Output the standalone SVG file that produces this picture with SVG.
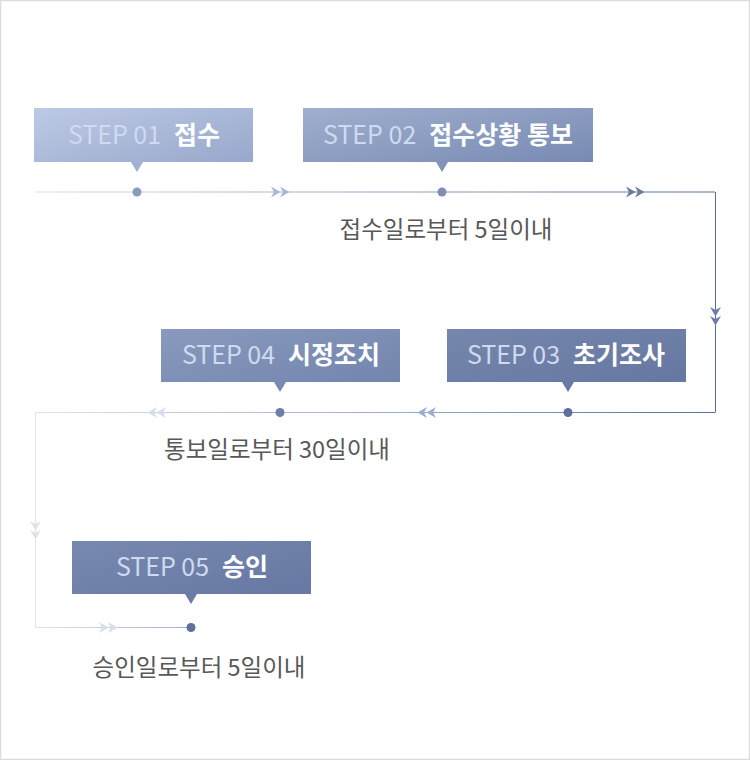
<svg xmlns="http://www.w3.org/2000/svg" width="750" height="760" viewBox="0 0 750 760">
  <style>
    .step { font-family: "Noto Sans CJK KR", "Noto Sans", sans-serif; font-size: 25px; }
    .num { fill: #cfdaf1; font-weight: 400; }
    .name { fill: #ffffff; font-weight: 700; }
    .desc { font-family: "Noto Sans CJK KR", "Noto Sans", sans-serif; font-size: 23.5px; fill: #585858; text-anchor: middle; }
    .ln { fill: none; stroke-width: 1; }
  </style>
  <defs>
    <linearGradient id="g1" x1="0" y1="0" x2="1" y2="1">
      <stop offset="0" stop-color="#bdcae6"/>
      <stop offset="1" stop-color="#95a5c8"/>
    </linearGradient>
    <linearGradient id="g2" x1="0" y1="0" x2="1" y2="1">
      <stop offset="0" stop-color="#a0afce"/>
      <stop offset="1" stop-color="#7487b0"/>
    </linearGradient>
    <linearGradient id="g3" x1="0" y1="0" x2="1" y2="1">
      <stop offset="0" stop-color="#7687ad"/>
      <stop offset="1" stop-color="#6476a0"/>
    </linearGradient>
    <linearGradient id="g4" x1="0" y1="0" x2="1" y2="1">
      <stop offset="0" stop-color="#8a9abe"/>
      <stop offset="1" stop-color="#7083ac"/>
    </linearGradient>
    <linearGradient id="g5" x1="0" y1="0" x2="1" y2="1">
      <stop offset="0" stop-color="#7789af"/>
      <stop offset="1" stop-color="#6577a2"/>
    </linearGradient>
    <linearGradient id="lg1" gradientUnits="userSpaceOnUse" x1="35" y1="0" x2="715" y2="0">
      <stop offset="0" stop-color="#dbe1ec"/>
      <stop offset="0.35" stop-color="#a8b6d6"/>
      <stop offset="1" stop-color="#5c6d98"/>
    </linearGradient>
    <linearGradient id="lg2" gradientUnits="userSpaceOnUse" x1="715" y1="0" x2="35" y2="0">
      <stop offset="0" stop-color="#5c6d98"/>
      <stop offset="0.45" stop-color="#9aa9c9"/>
      <stop offset="1" stop-color="#dfe4ec"/>
    </linearGradient>
    <linearGradient id="lg3" gradientUnits="userSpaceOnUse" x1="35" y1="0" x2="191" y2="0">
      <stop offset="0" stop-color="#dfe4ec"/>
      <stop offset="1" stop-color="#a3b0cc"/>
    </linearGradient>
    <path id="chev" d="M0,-5.5 L9.5,0 L0,5.5 L3,0 Z M9,-5.5 L18.5,0 L9,5.5 L12,0 Z"/>
  </defs>

  <rect x="0.5" y="0.5" width="749" height="759" fill="#ffffff" stroke="#dcdcdc" stroke-width="1.5"/>

  <g id="connectors">
    <line class="ln" x1="35" y1="192" x2="715" y2="192" stroke="url(#lg1)"/>
    <line class="ln" x1="715.5" y1="192" x2="715.5" y2="412.5" stroke="#5c6d98"/>
    <line class="ln" x1="715" y1="412.5" x2="35" y2="412.5" stroke="url(#lg2)"/>
    <line class="ln" x1="35.5" y1="412.5" x2="35.5" y2="627.5" stroke="#dfe4ec"/>
    <line class="ln" x1="35" y1="627.5" x2="191" y2="627.5" stroke="url(#lg3)"/>
    <use href="#chev" transform="translate(271,192)" fill="#a9b8da"/>
    <use href="#chev" transform="translate(626,192)" fill="#6a7ba7"/>
    <use href="#chev" transform="translate(715.5,307) rotate(90)" fill="#6c7da8"/>
    <use href="#chev" transform="translate(436,412.5) rotate(180)" fill="#9caccd"/>
    <use href="#chev" transform="translate(166,412.5) rotate(180)" fill="#d6deec"/>
    <use href="#chev" transform="translate(35.5,521) rotate(90)" fill="#dde2ea"/>
    <use href="#chev" transform="translate(99,627.5)" fill="#d6deec"/>
  </g>

  <g id="step1">
    <path d="M34,108 H253 V162 H143 L137,172 L131,162 H34 Z" fill="url(#g1)"/>
    <circle cx="137" cy="192" r="4.5" fill="#8b9cc4"/>
    <text class="step" x="144" y="144" text-anchor="middle"><tspan class="num">STEP 01</tspan><tspan class="name" dx="13">접수</tspan></text>
  </g>

  <g id="step2">
    <path d="M303,108 H593 V162 H448 L442,172 L436,162 H303 Z" fill="url(#g2)"/>
    <circle cx="442" cy="192" r="4.5" fill="#7d8fb7"/>
    <text class="step" x="448" y="144" text-anchor="middle"><tspan class="num">STEP 02</tspan><tspan class="name" dx="13">접수상황 통보</tspan></text>
    <text class="desc" x="446" y="238">접수일로부터 5일이내</text>
  </g>

  <g id="step3">
    <path d="M447,329 H686 V382 H574 L568,392 L562,382 H447 Z" fill="url(#g3)"/>
    <circle cx="568" cy="412.5" r="4.5" fill="#5f709c"/>
    <text class="step" x="566" y="364" text-anchor="middle"><tspan class="num">STEP 03</tspan><tspan class="name" dx="13">초기조사</tspan></text>
  </g>

  <g id="step4">
    <path d="M161,329 H400 V382 H286 L280,392 L274,382 H161 Z" fill="url(#g4)"/>
    <circle cx="280" cy="412.5" r="4.5" fill="#6d7faa"/>
    <text class="step" x="281" y="364" text-anchor="middle"><tspan class="num">STEP 04</tspan><tspan class="name" dx="13">시정조치</tspan></text>
    <text class="desc" x="277" y="458">통보일로부터 30일이내</text>
  </g>

  <g id="step5">
    <path d="M72,541 H311 V594 H197 L191,604 L185,594 H72 Z" fill="url(#g5)"/>
    <circle cx="191" cy="627.5" r="4.5" fill="#5f709c"/>
    <text class="step" x="192" y="576" text-anchor="middle"><tspan class="num">STEP 05</tspan><tspan class="name" dx="13">승인</tspan></text>
    <text class="desc" x="199" y="676">승인일로부터 5일이내</text>
  </g>
</svg>
